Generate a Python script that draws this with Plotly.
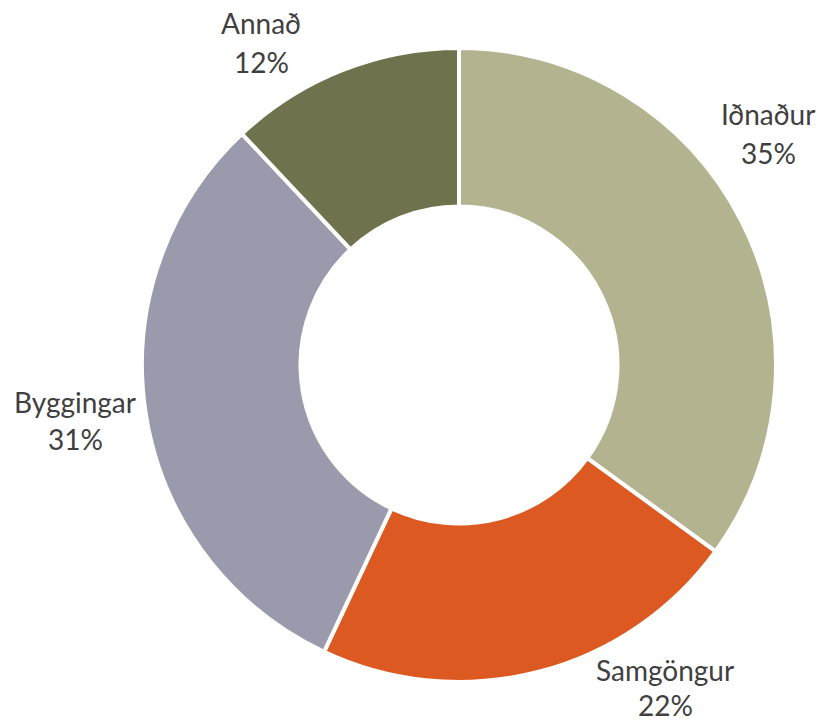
import plotly.graph_objects as go

categories = ["Iðnaður", "Samgöngur", "Byggingar", "Annað"]
values = [35, 22, 31, 12]
colors = ["#B3B38F", "#DC5A22", "#9A9AAC", "#70714D"]

W, H = 825, 723
# label line centres in figure pixels (layout only): (x, y_name, y_pct)
label_px = [(768, 114, 153), (665, 670, 705), (75, 402, 439), (261, 23, 62)]

# pie centre / radius in pixels (layout)
cx, cy, R = 459, 365, 317

fig = go.Figure(go.Pie(
    labels=categories,
    values=values,
    hole=0.5,
    sort=False,
    direction="clockwise",
    rotation=0,
    marker=dict(colors=colors, line=dict(color="white", width=4)),
    textinfo="none",
    hoverinfo="label+percent",
    domain=dict(x=[(cx - R) / W, (cx + R) / W], y=[1 - (cy + R) / H, 1 - (cy - R) / H]),
    showlegend=False,
))

total = sum(values)
font = dict(family="Lato", size=28, color="#404040")
for cat, val, (px, py1, py2) in zip(categories, values, label_px):
    for txt, py in ((cat, py1), (f"{round(100 * val / total)}%", py2)):
        fig.add_annotation(
            x=px / W, y=1 - py / H, xref="paper", yref="paper",
            text=txt, showarrow=False, xanchor="center", yanchor="middle",
            font=font,
        )

fig.update_layout(
    width=W, height=H,
    margin=dict(l=0, r=0, t=0, b=0),
    paper_bgcolor="white",
)
fig.write_html("out.html", config={"displayModeBar": False},
               post_script="document.body.style.margin='0';")
